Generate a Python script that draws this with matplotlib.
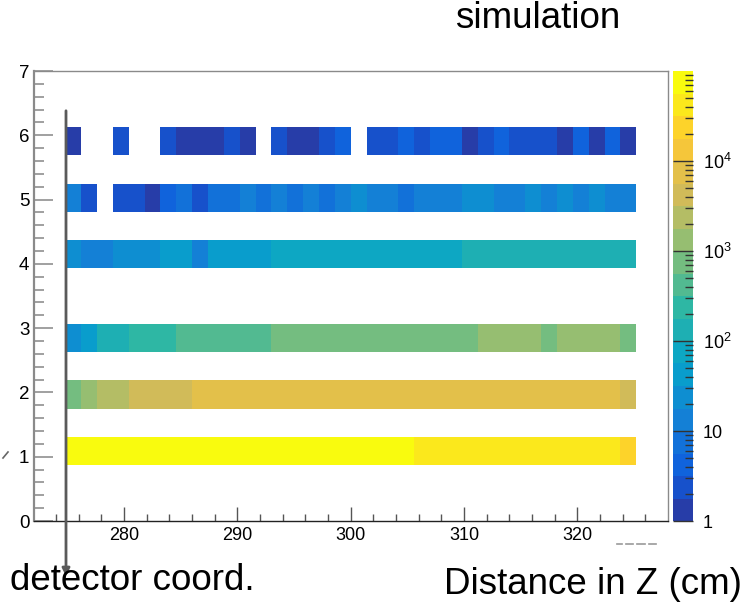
import numpy as np
import matplotlib
matplotlib.use("Agg")
import matplotlib.pyplot as plt
from matplotlib.colors import LinearSegmentedColormap, ListedColormap, LogNorm
from matplotlib.ticker import FixedLocator, FixedFormatter, NullFormatter

plt.rcParams['font.family'] = ['Liberation Sans', 'DejaVu Sans']
plt.rcParams['mathtext.fontset'] = 'custom'
plt.rcParams['mathtext.rm'] = 'Liberation Sans'
plt.rcParams['mathtext.it'] = 'Liberation Sans'

# ---- data -------------------------------------------------------------
z_edges_first = 274.8     # cm, first filled bin edge
z_bin_width = 1.4
n_z_bins = 36
layers = [1, 2, 3, 4, 5, 6]
layer_ybin = [2, 4, 6, 9, 11, 13]  # index of y-bin (16 bins over 0..7)

row1 = [75000] * 22 + [42000] * 13 + [24000]
row2 = [750, 1300, 2400, 2400, 4200, 4200, 4200, 4200] + [7500] * 27 + [4200]
row3 = ([24, 42, 130, 130, 240, 240, 240] + [420] * 6 + [750] * 13
        + [1300] * 4 + [750] + [1300] * 4 + [750])
row4 = [24, 13, 13, 24, 24, 24, 42, 42, 13, 42, 42, 42, 42] + [75] * 12 + [130] * 11
row5 = [13, 2.4, 0, 2.4, 2.4, 1.3, 4.2, 7.5, 2.4, 7.5, 7.5, 13, 7.5, 13, 7.5, 13,
        7.5, 13, 24, 13, 13, 7.5, 13, 13, 13, 24, 24, 13, 13, 24, 13, 24, 13, 24, 13, 13]
row6 = [1.3, 0, 0, 2.4, 0, 0, 2.4, 1.3, 1.3, 1.3, 2.4, 1.3, 0, 2.4, 1.3, 1.3, 2.4, 4.2,
        0, 2.4, 2.4, 4.2, 2.4, 4.2, 4.2, 1.3, 2.4, 4.2, 2.4, 2.4, 2.4, 1.3, 4.2, 1.3, 4.2, 1.3]
rows = [row1, row2, row3, row4, row5, row6]

x_ticks_major = [280, 290, 300, 310, 320]
y_ticks_major = [0, 1, 2, 3, 4, 5, 6, 7]
cbar_ticks = [1, 10, 100, 1000, 10000]
cbar_labels = ['1', '10', '$10^{2}$', '$10^{3}$', '$10^{4}$']

# ---- palette (ROOT kBird, 20 contours) --------------------------------
stops = [0.0, 0.125, 0.25, 0.375, 0.5, 0.625, 0.75, 0.875, 1.0]
red = [0.2082, 0.0592, 0.0780, 0.0232, 0.1802, 0.5301, 0.8186, 0.9956, 0.9764]
green = [0.1664, 0.3599, 0.5041, 0.6419, 0.7178, 0.7492, 0.7328, 0.7862, 0.9832]
blue = [0.5293, 0.8684, 0.8385, 0.7914, 0.6425, 0.4662, 0.3499, 0.1968, 0.0539]
bird = LinearSegmentedColormap.from_list(
    'bird', list(zip(stops, zip(red, green, blue))), N=255)
ncont = 20
cols = [bird(int((i + 0.99) * 255 / ncont) / 254.0) for i in range(ncont)]
cmap = ListedColormap(cols)
cmap.set_bad((1, 1, 1, 0))
norm = LogNorm(vmin=1, vmax=1e5)

# ---- histogram grid ---------------------------------------------------
xedges = z_edges_first + z_bin_width * np.arange(n_z_bins + 1)
yedges = np.linspace(0, 7, 17)
Z = np.full((16, n_z_bins), np.nan)
for yb, r in zip(layer_ybin, rows):
    arr = np.array(r, dtype=float)
    arr[arr <= 0] = np.nan
    Z[yb, :] = arr

# ---- figure -----------------------------------------------------------
W, H = 750, 607
fig = plt.figure(figsize=(W / 100, H / 100), dpi=100)

def fr(x0, y0, x1, y1):
    return [x0 / W, 1 - y1 / H, (x1 - x0) / W, (y1 - y0) / H]

ax = fig.add_axes(fr(33.5, 71, 668, 521))
mesh = ax.pcolormesh(xedges, yedges, Z, cmap=cmap, norm=norm, shading='flat')
ax.set_xlim(272, 328)
ax.set_ylim(0, 7)

ax.xaxis.set_major_locator(FixedLocator(x_ticks_major))
ax.xaxis.set_minor_locator(FixedLocator(np.arange(274, 328, 2)))
ax.yaxis.set_major_locator(FixedLocator(y_ticks_major))
ax.yaxis.set_minor_locator(FixedLocator(np.arange(0, 7.01, 0.2)))
ax.tick_params(axis='x', which='major', direction='in', length=10, width=1,
               color='#555555', labelsize=13, pad=4, top=False)
ax.tick_params(axis='x', which='minor', direction='in', length=5, width=1,
               color='#555555', top=False)
ax.tick_params(axis='y', which='major', direction='in', length=13.5, width=1.2,
               color='#909090', labelsize=13.5, pad=3, right=False)
ax.tick_params(axis='y', which='minor', direction='in', length=7, width=1.2,
               color='#909090', right=False)
for s in ['top', 'right']:
    ax.spines[s].set_color('#8a8a8a')
    ax.spines[s].set_linewidth(1.0)
ax.spines['left'].set_color('#8a8a8a')
ax.spines['left'].set_linewidth(1.6)
ax.spines['bottom'].set_color('#222222')
ax.spines['bottom'].set_linewidth(1.0)

# colorbar
cax = fig.add_axes(fr(673, 71, 693, 521))
cb = fig.colorbar(mesh, cax=cax)
cb.outline.set_visible(False)
cax.yaxis.set_major_locator(FixedLocator(cbar_ticks))
cax.yaxis.set_major_formatter(FixedFormatter(cbar_labels))
minor = [m * 10 ** d for d in range(5) for m in range(2, 10)]
cax.yaxis.set_minor_locator(FixedLocator(minor))
cax.yaxis.set_minor_formatter(NullFormatter())
cax.tick_params(axis='y', which='major', direction='in', length=14.4, width=1,
                color='#333333', labelsize=13, pad=7, left=False, right=True)
cax.tick_params(axis='y', which='minor', direction='in', length=5.5, width=1,
                color='#333333', left=False, right=True)

# annotation arrow (detector coordinate)
ax_arrow_x = 66 / W
fig.add_artist(matplotlib.patches.FancyArrowPatch(
    (ax_arrow_x, 1 - 108 / H), (ax_arrow_x, 1 - 579 / H),
    transform=fig.transFigure, arrowstyle='-|>', mutation_scale=11,
    color='#5a5a5a', lw=2.0))

# texts
fig.text(538 / W, 1 - 18 / H, 'simulation', fontsize=26.5, ha='center', va='center')
fig.text(10 / W, 1 - 580 / H, 'detector coord.', fontsize=26.5, ha='left', va='center')
fig.text(742 / W, 1 - 585 / H, 'Distance in Z (cm)', fontsize=26.5, ha='right', va='center')

# small remnants
fig.add_artist(matplotlib.lines.Line2D([3 / W, 8 / W], [1 - 458 / H, 1 - 452 / H],
                                       transform=fig.transFigure, color='#666666', lw=1.2))
for x0, x1 in [(617, 622), (626, 633), (637, 645), (649, 656)]:
    fig.add_artist(matplotlib.lines.Line2D([x0 / W, x1 / W], [1 - 544 / H, 1 - 544 / H],
                                           transform=fig.transFigure, color='#999999', lw=1.2))

fig.savefig('out.png', dpi=100, facecolor='white')
